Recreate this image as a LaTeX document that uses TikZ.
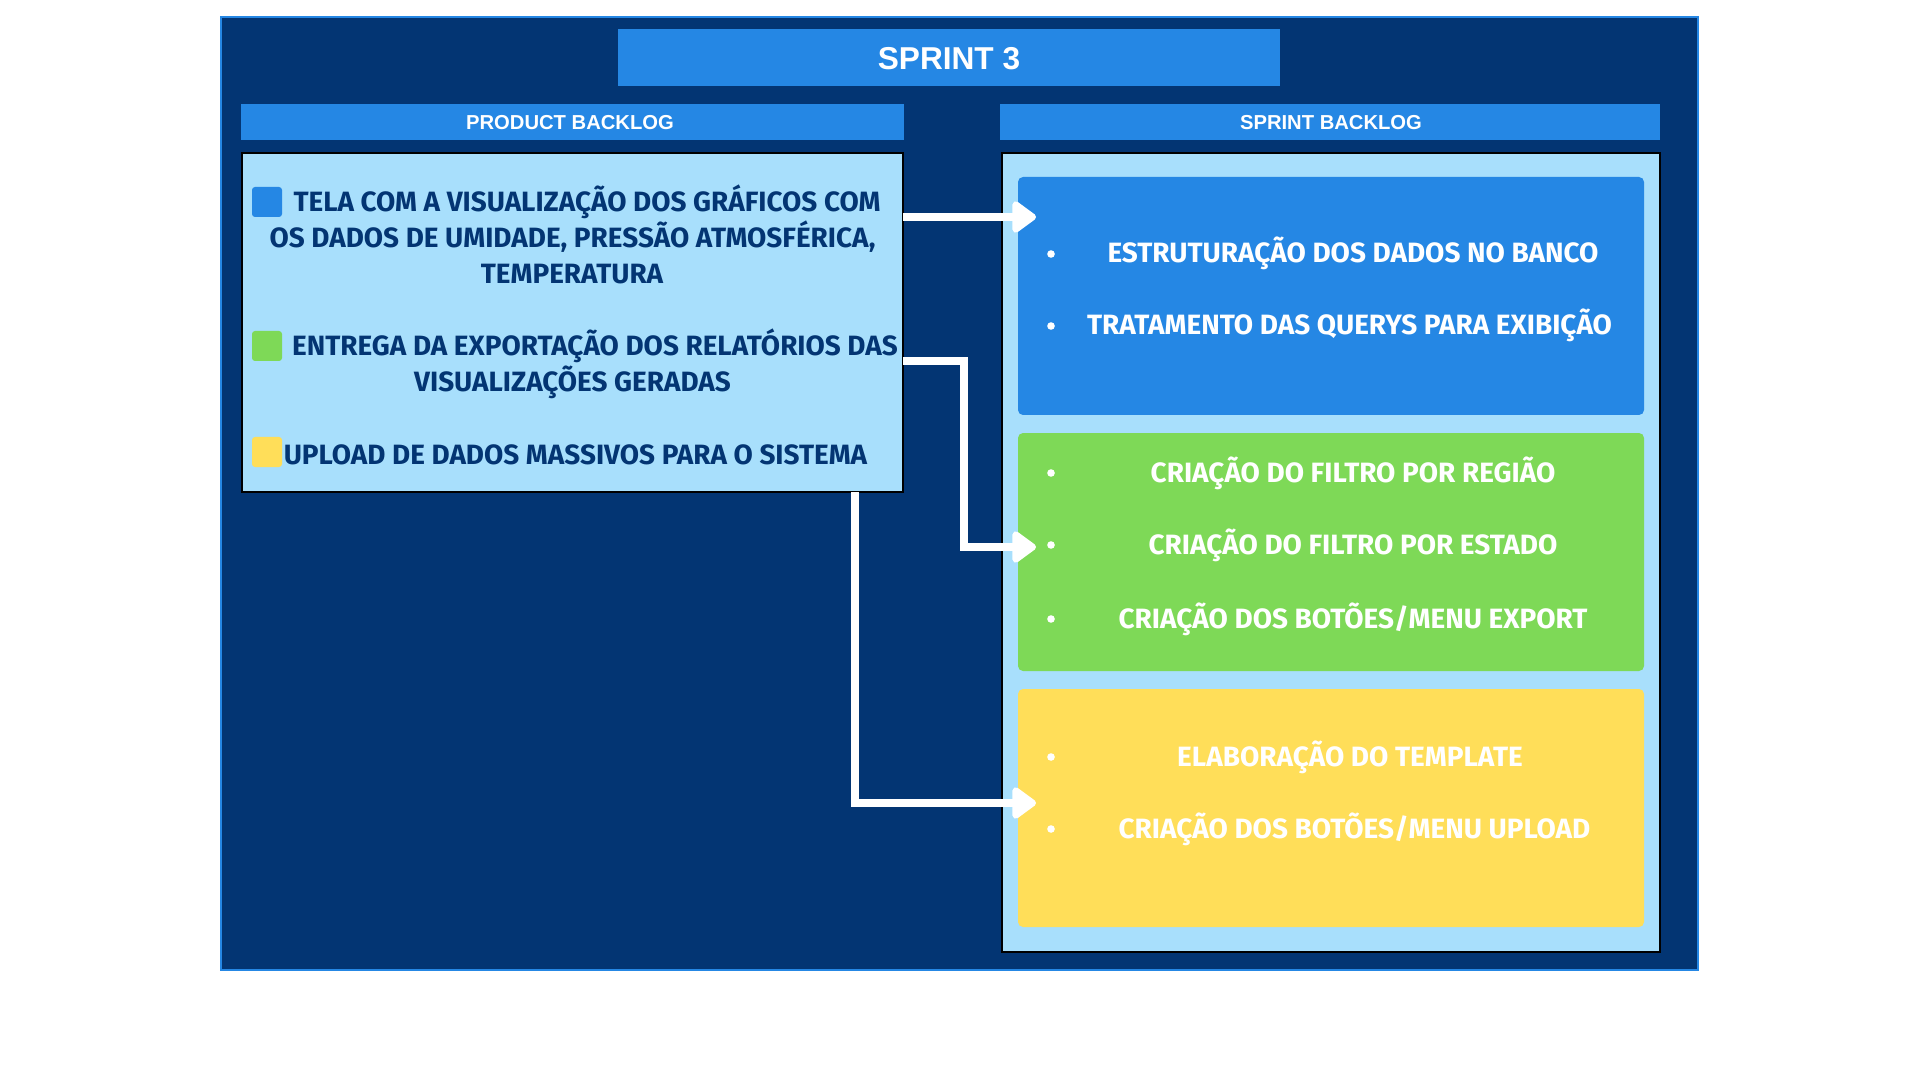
\documentclass[tikz,border=0pt]{standalone}
\usepackage{fontspec}
\usetikzlibrary{arrows.meta}
\newfontfamily\headfont{Liberation Sans}
\newfontfamily\cardfont{Fira Sans}
\definecolor{navy}{HTML}{033573}
\definecolor{headblue}{HTML}{2587E4}
\definecolor{skyfill}{HTML}{A8DFFC}
\definecolor{taskgreen}{HTML}{7ED957}
\definecolor{taskyellow}{HTML}{FFDE59}
\begin{document}
\begin{tikzpicture}[
		panel/.style={draw=black, line width=0.4pt, fill=skyfill, anchor=north west, inner sep=0pt, outer sep=0pt},
		headtext/.style={text=white, anchor=base, inner sep=0pt, font=\headfont\bfseries\fontsize{5.75}{6}\selectfont},
		itemtext/.style={text=navy, anchor=base, inner sep=0pt, font=\cardfont\bfseries\fontsize{7.94}{10}\selectfont},
		tasktext/.style={text=white, anchor=base, inner sep=0pt, font=\cardfont\bfseries\fontsize{7.95}{9}\selectfont},
		flow/.style={draw=white, line width=2.5pt, -{Triangle[length=0.26cm, width=0.36cm, round]}},
	]
		\useasboundingbox (0.00,0.00) rectangle (19.20,-10.80);
		\fill[white] (0.00,0.00) rectangle (19.20,-10.80);
		% frame and titles
		\draw[draw=headblue, line width=0.6pt, fill=navy] (2.21,-0.17) rectangle (16.98,-9.70);
		\fill[headblue] (6.18,-0.29) rectangle (12.80,-0.86);
		\fill[headblue] (2.41,-1.04) rectangle (9.04,-1.40);
		\fill[headblue] (10.00,-1.04) rectangle (16.60,-1.40);
		\node[headtext, font=\headfont\bfseries\fontsize{9.0}{9}\selectfont] (title) at (9.49,-0.70) {SPRINT 3};
		\node[headtext] (pbhead) at (5.70,-1.30) {PRODUCT BACKLOG};
		\node[headtext] (sbhead) at (13.31,-1.30) {SPRINT BACKLOG};
		% product backlog
		\node[panel, minimum width=6.61cm, minimum height=3.39cm] (pbbox) at (2.42,-1.53) {};
		\fill[headblue, rounded corners=0.03cm] (2.52,-1.87) rectangle (2.82,-2.17);
		\fill[taskgreen, rounded corners=0.03cm] (2.52,-3.31) rectangle (2.82,-3.61);
		\fill[taskyellow, rounded corners=0.03cm] (2.52,-4.37) rectangle (2.82,-4.67);
		\node[itemtext] (pb1a) at (5.87,-2.115) {TELA COM A VISUALIZAÇÃO DOS GRÁFICOS COM};
		\node[itemtext] (pb1b) at (5.725,-2.475) {OS DADOS DE UMIDADE, PRESSÃO ATMOSFÉRICA,};
		\node[itemtext] (pb1c) at (5.72,-2.835) {TEMPERATURA};
		\node[itemtext] (pb2a) at (5.95,-3.555) {ENTREGA DA EXPORTAÇÃO DOS RELATÓRIOS DAS};
		\node[itemtext] (pb2b) at (5.725,-3.915) {VISUALIZAÇÕES GERADAS};
		\node[itemtext] (pb3a) at (5.755,-4.645) {UPLOAD DE DADOS MASSIVOS PARA O SISTEMA};
		% sprint backlog
		\node[panel, minimum width=6.58cm, minimum height=7.99cm] (sbbox) at (10.02,-1.53) {};
		\fill[headblue, rounded corners=0.05cm] (10.18,-1.77) rectangle (16.44,-4.15);
		\fill[taskgreen, rounded corners=0.05cm] (10.18,-4.33) rectangle (16.44,-6.71);
		\fill[taskyellow, rounded corners=0.05cm] (10.18,-6.89) rectangle (16.44,-9.27);
		\foreach \y in {2.54,3.26,4.73,5.45,6.19,7.57,8.29}
			\fill[white] (10.51,-\y) circle (0.038);
		\node[tasktext] (sb1) at (13.53,-2.63) {ESTRUTURAÇÃO DOS DADOS NO BANCO};
		\node[tasktext] (sb2) at (13.495,-3.35) {TRATAMENTO DAS QUERYS PARA EXIBIÇÃO};
		\node[tasktext] (sb3) at (13.53,-4.82) {CRIAÇÃO DO FILTRO POR REGIÃO};
		\node[tasktext] (sb4) at (13.53,-5.54) {CRIAÇÃO DO FILTRO POR ESTADO};
		\node[tasktext] (sb5) at (13.53,-6.28) {CRIAÇÃO DOS BOTÕES/MENU EXPORT};
		\node[tasktext] (sb6) at (13.50,-7.66) {ELABORAÇÃO DO TEMPLATE};
		\node[tasktext] (sb7) at (13.545,-8.38) {CRIAÇÃO DOS BOTÕES/MENU UPLOAD};
		% arrows
		\coordinate (tip1) at (10.36,-2.17);
		\coordinate (tip2) at (10.36,-5.47);
		\coordinate (tip3) at (10.36,-8.03);
		\draw[flow] (pbbox.east |- tip1) -- (tip1);
		\draw[flow] (pbbox.east |- 0,-3.61) -- ++(0.61,0) |- (tip2);
		\draw[flow] (pbbox.south -| 8.55,0) |- (tip3);
	\end{tikzpicture}
\end{document}
